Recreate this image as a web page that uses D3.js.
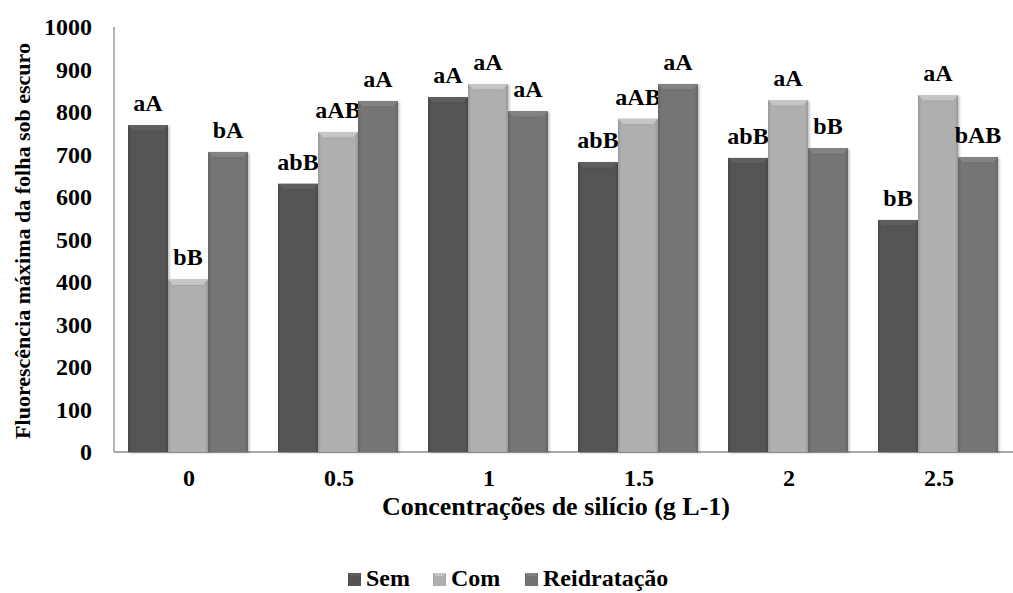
<!DOCTYPE html>
<html>
<head>
<meta charset="utf-8">
<script src="https://cdn.jsdelivr.net/npm/d3@7"></script>
<style>
  body { margin: 0; background: #fff; }
</style>
</head>
<body>
<div id="chart"></div>
<script>
// data
var categories = ["0", "0.5", "1", "1.5", "2", "2.5"];
var seriesNames = ["Sem", "Com", "Reidratação"];
var semValues = [769, 631, 835, 682, 692, 546];
var comValues = [406, 753, 866, 784, 828, 840];
var reidValues = [706, 826, 802, 866, 715, 694];
var semLabels = ["aA", "abB", "aA", "abB", "abB", "bB"];
var comLabels = ["bB", "aAB", "aA", "aAB", "aA", "aA"];
var reidLabels = ["bA", "aA", "aA", "aA", "bB", "bAB"];
var yTicks = [0, 100, 200, 300, 400, 500, 600, 700, 800, 900, 1000];

var colors = { "Sem": "#545454", "Com": "#afafaf", "Reidratação": "#747474" };

var chartW = 1013, chartH = 593;
var plotLeft = 114, plotRight = 1014, plotTop = 27, plotBottom = 452;
var serif = "Liberation Serif";

var svg = d3.select("#chart").append("svg")
    .attr("width", chartW)
    .attr("height", chartH);

function styleText(sel, size) {
    return sel.style("font-family", serif)
        .style("font-weight", "bold")
        .style("font-size", size + "px")
        .attr("fill", "#000");
}

var defs = svg.append("defs");
seriesNames.forEach(function (s, i) {
    var c = d3.color(colors[s]);
    var g = defs.append("linearGradient")
        .attr("id", "grad" + i)
        .attr("x1", "0").attr("x2", "1").attr("y1", "0").attr("y2", "0");
    g.append("stop").attr("offset", "0%").attr("stop-color", c.darker(0.4));
    g.append("stop").attr("offset", "8%").attr("stop-color", c);
    g.append("stop").attr("offset", "92%").attr("stop-color", c);
    g.append("stop").attr("offset", "100%").attr("stop-color", c.darker(0.4));
});
var shadow = defs.append("filter").attr("id", "shadow")
    .attr("x", "-10%").attr("y", "-10%").attr("width", "130%").attr("height", "130%");
shadow.append("feDropShadow")
    .attr("dx", 1.5).attr("dy", 1).attr("stdDeviation", 1.2)
    .attr("flood-color", "#000").attr("flood-opacity", 0.25);

var x0 = d3.scaleBand().domain(categories).range([plotLeft, plotRight]).padding(0);
var x1 = d3.scaleBand().domain(seriesNames).range([14, 134]).padding(0);
var y = d3.scaleLinear().domain([0, 1000]).range([plotBottom, plotTop]);

var rows = categories.map(function (c, i) {
    return [
        { cat: c, s: "Sem", v: semValues[i], lab: semLabels[i], k: 0 },
        { cat: c, s: "Com", v: comValues[i], lab: comLabels[i], k: 1 },
        { cat: c, s: "Reidratação", v: reidValues[i], lab: reidLabels[i], k: 2 }
    ];
});

// axes lines
svg.append("line")
    .attr("x1", plotLeft).attr("x2", plotLeft).attr("y1", plotTop).attr("y2", plotBottom)
    .attr("stroke", "#8c8c8c").attr("stroke-width", 1.3);
svg.append("line")
    .attr("x1", plotLeft).attr("x2", plotRight).attr("y1", plotBottom).attr("y2", plotBottom)
    .attr("stroke", "#8c8c8c").attr("stroke-width", 1.3);

// y axis labels
var yAxis = svg.append("g")
    .attr("transform", "translate(92,0)")
    .call(d3.axisLeft(y).tickValues(yTicks).tickFormat(d3.format("d")).tickSize(0).tickPadding(0));
yAxis.attr("font-family", null).attr("font-size", null);
yAxis.select(".domain").remove();
styleText(yAxis.selectAll("text"), 24);

// x axis labels
var xAxis = svg.append("g")
    .attr("transform", "translate(0,486)")
    .call(d3.axisBottom(x0).tickSize(0).tickPadding(0));
xAxis.attr("font-family", null).attr("font-size", null);
xAxis.select(".domain").remove();
styleText(xAxis.selectAll("text").attr("dy", "0"), 24);

var groups = svg.selectAll(".grp")
    .data(rows)
    .enter().append("g")
    .attr("class", "grp")
    .attr("transform", function (d) { return "translate(" + x0(d[0].cat) + ",0)"; });

var bars = groups.selectAll(".bar")
    .data(function (d) { return d; })
    .enter().append("g")
    .attr("class", "bar");

var bw = x1.bandwidth();
var bev = 6;

bars.append("rect")
    .attr("x", function (d) { return x1(d.s); })
    .attr("y", function (d) { return y(d.v); })
    .attr("width", bw)
    .attr("height", function (d) { return plotBottom - y(d.v); })
    .attr("fill", function (d) { return "url(#grad" + d.k + ")"; })
    .attr("filter", "url(#shadow)");

// top bevel
bars.append("polygon")
    .attr("points", function (d) {
        var xa = x1(d.s), ya = y(d.v);
        return [[xa, ya], [xa + bw, ya], [xa + bw - bev, ya + bev], [xa + bev, ya + bev]].join(" ");
    })
    .attr("fill", function (d) { return d3.color(colors[d.s]).brighter(0.35); });
bars.append("line")
    .attr("x1", function (d) { return x1(d.s) + bev; })
    .attr("x2", function (d) { return x1(d.s) + bw - bev; })
    .attr("y1", function (d) { return y(d.v) + bev; })
    .attr("y2", function (d) { return y(d.v) + bev; })
    .attr("stroke", function (d) { return d3.color(colors[d.s]).darker(0.25); })
    .attr("stroke-width", 1);

// letters above bars
styleText(bars.append("text"), 24)
    .attr("x", function (d) { return x1(d.s) + bw / 2; })
    .attr("y", function (d) { return y(d.v) - 14; })
    .attr("text-anchor", "middle")
    .text(function (d) { return d.lab; });

// axis titles
styleText(svg.append("text"), 22)
    .attr("transform", "translate(30,241) rotate(-90)")
    .attr("text-anchor", "middle")
    .text("Fluorescência máxima da folha sob escuro");

styleText(svg.append("text"), 26)
    .attr("x", 556)
    .attr("y", 515)
    .attr("text-anchor", "middle")
    .text("Concentrações de silício (g L-1)");

// legend
var legendX = [348, 433, 525];
var legend = svg.selectAll(".leg")
    .data(seriesNames)
    .enter().append("g")
    .attr("class", "leg")
    .attr("transform", function (d, i) { return "translate(" + legendX[i] + ",573)"; });
legend.append("rect")
    .attr("width", 13).attr("height", 13)
    .attr("fill", function (d, i) { return "url(#grad" + i + ")"; });
legend.append("polygon")
    .attr("points", "0,0 13,0 10,3 3,3")
    .attr("fill", function (d) { return d3.color(colors[d]).brighter(0.35); });
styleText(legend.append("text"), 24)
    .attr("x", 18)
    .attr("y", 13)
    .text(function (d) { return d; });
</script>
</body>
</html>
